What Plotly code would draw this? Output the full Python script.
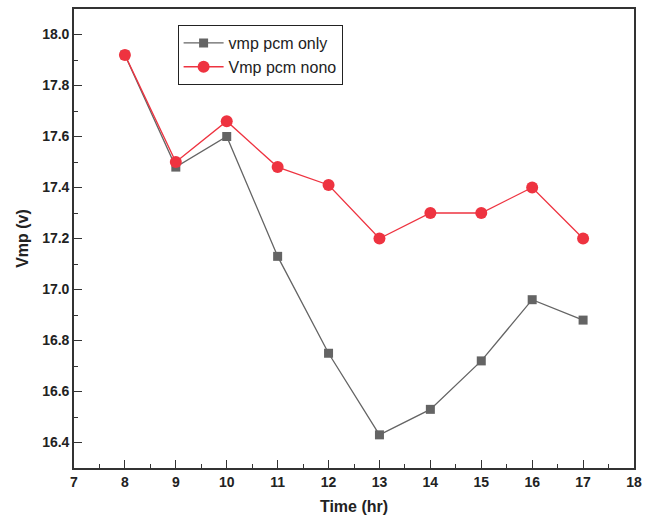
import plotly.graph_objects as go

hours = [8, 9, 10, 11, 12, 13, 14, 15, 16, 17]
vmp_pcm_only = [17.92, 17.48, 17.60, 17.13, 16.75, 16.43, 16.53, 16.72, 16.96, 16.88]
vmp_pcm_nono = [17.92, 17.50, 17.66, 17.48, 17.41, 17.20, 17.30, 17.30, 17.40, 17.20]

fig = go.Figure()
fig.add_trace(go.Scatter(x=hours, y=vmp_pcm_only, mode="lines+markers", name="vmp pcm only",
                         line=dict(color="#646464", width=1.3),
                         marker=dict(symbol="square", size=9, color="#646464")))
fig.add_trace(go.Scatter(x=hours, y=vmp_pcm_nono, mode="lines+markers", name="Vmp pcm nono",
                         line=dict(color="#ee3340", width=1.3),
                         marker=dict(symbol="circle", size=12, color="#ee3340")))

fig.update_layout(
    width=649, height=524,
    margin=dict(l=74, r=7, t=9, b=56),
    plot_bgcolor="white", paper_bgcolor="white",
    font=dict(family="Liberation Sans, Arial", size=13, color="#222"),
    showlegend=True,
    legend=dict(x=0.185, y=0.965, xanchor="left", yanchor="top",
                bordercolor="#222", borderwidth=1, bgcolor="white",
                font=dict(family="Liberation Sans, Arial", size=16, color="#222"),
                tracegroupgap=0, itemwidth=40),
)
common = dict(ticks="inside", ticklen=8, tickwidth=1.3, tickcolor="#333",
              showline=True, linecolor="#333", linewidth=1.6, mirror=True,
              showgrid=False, zeroline=False,
              tickfont=dict(family="Liberation Sans, Arial", size=14, color="#222", weight="bold"))
fig.update_xaxes(range=[7, 18], dtick=1, tick0=7,
                 minor=dict(ticks="inside", ticklen=4, dtick=0.5, tickcolor="#333", tickwidth=1.2),
                 title=dict(text="<b>Time (hr)</b>", font=dict(size=16), standoff=12),
                 **common)
fig.update_yaxes(range=[16.3, 18.1], dtick=0.2, tick0=16.4, tickformat=".1f",
                 minor=dict(ticks="inside", ticklen=4, dtick=0.1, tickcolor="#333", tickwidth=1.2),
                 title=dict(text="<b>Vmp (v)</b>", font=dict(size=16), standoff=10),
                 **common)

fig.write_html("out.html")
